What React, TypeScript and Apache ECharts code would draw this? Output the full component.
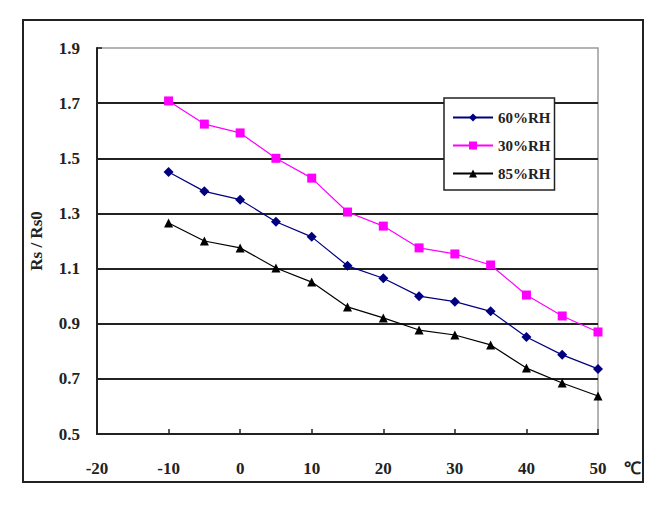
import React, { useEffect, useRef } from "react";
import * as echarts from "echarts";

const temperatures = [-10, -5, 0, 5, 10, 15, 20, 25, 30, 35, 40, 45, 50];
const rh60 = [1.45, 1.38, 1.35, 1.27, 1.215, 1.11, 1.065, 1.0, 0.98, 0.945, 0.852, 0.787, 0.736];
const rh30 = [1.708, 1.624, 1.592, 1.5, 1.428, 1.305, 1.254, 1.175, 1.153, 1.113, 1.004, 0.928, 0.87];
const rh85 = [1.265, 1.2, 1.175, 1.102, 1.051, 0.961, 0.921, 0.877, 0.859, 0.823, 0.739, 0.685, 0.638];
const seriesNames = ["60%RH", "30%RH", "85%RH"];
const yAxisTitle = "Rs / Rs0";
const unitLabel = "℃";

const FONT = "'Liberation Serif', serif";

export default function App() {
  const ref = useRef<HTMLDivElement>(null);
  useEffect(() => {
    if (!ref.current) return;
    const chart = echarts.init(ref.current, null, { renderer: "svg" });
    const pair = (ys: number[]) => temperatures.map((t, i) => [t, ys[i]]);
    chart.setOption({
      animation: false,
      backgroundColor: "#fff",
      grid: {
        left: 97,
        top: 48,
        right: 71,
        bottom: 83,
        show: true,
        borderColor: "#9a9a9a",
        borderWidth: 1.5,
        backgroundColor: "transparent",
      },
      xAxis: {
        type: "value",
        min: -20,
        max: 50,
        interval: 10,
        axisLine: { show: true, onZero: false, lineStyle: { color: "#222", width: 2 } },
        axisTick: { show: true, inside: true, length: 5, lineStyle: { color: "#222", width: 1.5 } },
        splitLine: { show: false },
        axisLabel: {
          margin: 26,
          color: "#222",
          fontSize: 17,
          fontFamily: FONT,
          fontWeight: "bold",
        },
      },
      yAxis: {
        type: "value",
        min: 0.5,
        max: 1.9,
        interval: 0.2,
        name: yAxisTitle,
        nameLocation: "middle",
        nameRotate: 90,
        nameGap: 52,
        nameTextStyle: { color: "#222", fontSize: 17, fontFamily: FONT, fontWeight: "bold" },
        axisLine: { show: true, onZero: false, lineStyle: { color: "#222", width: 2 } },
        axisTick: { show: true, inside: true, length: 5, lineStyle: { color: "#222", width: 1.5 } },
        splitLine: { show: true, showMaxLine: false, lineStyle: { color: "#222", width: 2 } },
        axisLabel: {
          margin: 17,
          color: "#222",
          fontSize: 17,
          fontFamily: FONT,
          fontWeight: "bold",
          formatter: (v: number) => v.toFixed(1),
        },
      },
      legend: {
        orient: "vertical",
        left: 444,
        top: 98,
        padding: [12, 4, 9, 8],
        itemGap: 13,
        itemWidth: 40,
        itemHeight: 10,
        backgroundColor: "#fff",
        borderColor: "#222",
        borderWidth: 1.5,
        textStyle: { color: "#222", fontSize: 15, fontFamily: FONT, fontWeight: "bold", lineHeight: 15 },
        data: seriesNames,
      },
      graphic: [
        {
          type: "rect",
          shape: { x: 23, y: 20, width: 620, height: 462 },
          style: { fill: "none", stroke: "#222", lineWidth: 2 },
          silent: true,
        },
        {
          type: "text",
          x: 632,
          y: 468,
          style: {
            text: unitLabel,
            fill: "#222",
            fontSize: 17,
            fontFamily: FONT,
            fontWeight: "bold",
            align: "center",
            verticalAlign: "middle",
          },
        },
      ],
      series: [
        {
          name: seriesNames[0],
          type: "line",
          data: pair(rh60),
          symbol: "diamond",
          symbolSize: 10,
          lineStyle: { color: "#000080", width: 1.2 },
          itemStyle: { color: "#000080" },
        },
        {
          name: seriesNames[1],
          type: "line",
          data: pair(rh30),
          symbol: "rect",
          symbolSize: 9,
          lineStyle: { color: "#ff00ff", width: 1.2 },
          itemStyle: { color: "#ff00ff" },
        },
        {
          name: seriesNames[2],
          type: "line",
          data: pair(rh85),
          symbol: "triangle",
          symbolSize: 9,
          lineStyle: { color: "#000000", width: 1.2 },
          itemStyle: { color: "#000000" },
        },
      ],
    });
    return () => chart.dispose();
  }, []);
  return (
    <div
      ref={ref}
      style={{ position: "fixed", left: 0, top: 0, width: 669, height: 517 }}
    />
  );
}
